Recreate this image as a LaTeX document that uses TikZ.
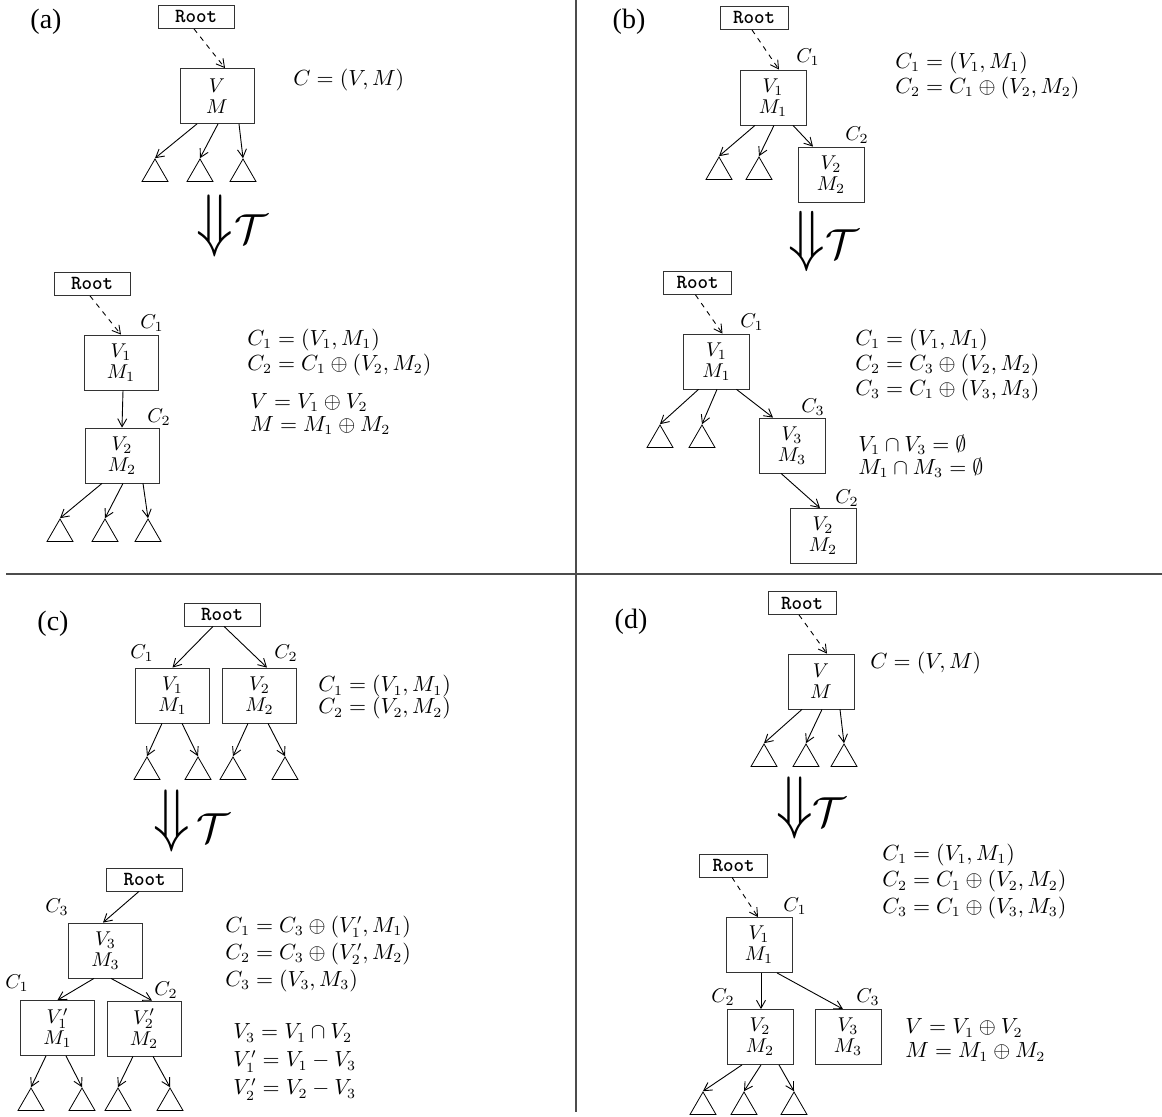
\documentclass[tikz,border=0pt]{standalone}
\usepackage{fontspec}
\newfontfamily\panelfont{Liberation Serif}
\usetikzlibrary{shapes.geometric,arrows.meta}

\begin{document}
\begin{tikzpicture}[x=0.5pt, y=-0.5pt,
    every node/.style={inner sep=0pt},
    cbox/.style={draw=black!80, minimum width=37pt, minimum height=27.5pt, align=center, font=\fontsize{10}{10.5}\selectfont},
    narrow/.style={minimum width=33pt},
    rootbox/.style={draw=black!80, minimum width=38pt, minimum height=11.5pt, font=\ttfamily\bfseries},
    smallroot/.style={minimum width=34pt},
    leaf/.style={draw, regular polygon, regular polygon sides=3, minimum size=15pt},
    clab/.style={font=\fontsize{10}{10}\selectfont},
    eqn/.style={anchor=west, align=left, font=\fontsize{10.5}{12.5}\selectfont},
    panel/.style={font=\panelfont\fontsize{14}{14}\selectfont},
    ptr/.style={-{Straight Barb[length=4pt,width=4.5pt]}, line width=0.45pt},
    dptr/.style={ptr, dash pattern=on 2.5pt off 2.5pt},
    sep/.style={draw=black!70, line width=0.9pt}]

  \useasboundingbox (0,0) rectangle (1162,1117);
  \draw[sep] (576,0) -- (576,1112);
  \draw[sep] (6,574) -- (1162,574);

  % (a)
  \node[panel] (aLab) at (46,22) {(a)};
  \node[rootbox] (a1R) at (196,17) {Root};
  \node[cbox] (a1V) at (217,96) {$V$\\$M$};
  \node[eqn] (a1E) at (293,80) {$C=(V,M)$};
  \node[leaf] (a1T1) at (155,174) {};
  \node[leaf] (a1T2) at (200,174) {};
  \node[leaf] (a1T3) at (243,174) {};
  \draw[dptr] ([xshift=-1pt]a1R.south) -- ([xshift=4pt]a1V.north);
  \draw[ptr] ([xshift=-10pt]a1V.south) -- (a1T1.corner 1);
  \draw[ptr] ([xshift=0.5pt]a1V.south) -- (a1T2.corner 1);
  \draw[ptr] ([xshift=11pt]a1V.south) -- (a1T3.corner 1);
  \node (aDown) at (215,226) {\scalebox{3}[3.5]{$\Downarrow$}};
  \node (aT) at (251,229) {\scalebox{2.1}{$\mathcal{T}$}};

  \node[rootbox] (a2R) at (92,284) {Root};
  \node[cbox] (a2V1) at (121,362.5) {$V_1$\\$M_1$};
  \node[cbox] (a2V2) at (122,455.5) {$V_2$\\$M_2$};
  \node[clab] (a2C1) at (152,323) {$C_1$};
  \node[clab] (a2C2) at (159,417) {$C_2$};
  \node[leaf] (a2T1) at (60,534) {};
  \node[leaf] (a2T2) at (105,534) {};
  \node[leaf] (a2T3) at (148,534) {};
  \draw[dptr] ([xshift=-1pt]a2R.south) -- (a2V1.north);
  \draw[ptr] ([xshift=1pt]a2V1.south) -- (a2V2.north);
  \draw[ptr] ([xshift=-10pt]a2V2.south) -- (a2T1.corner 1);
  \draw[ptr] ([xshift=0.5pt]a2V2.south) -- (a2T2.corner 1);
  \draw[ptr] ([xshift=10.5pt]a2V2.south) -- (a2T3.corner 1);
  \node[eqn] (a2E1) at (247,352.5) {$C_1=(V_1,M_1)$\\$C_2=C_1\oplus(V_2,M_2)$};
  \node[eqn, font=\fontsize{10.5}{11.5}\selectfont] (a2E2) at (250,414) {$V=V_1\oplus V_2$\\$M=M_1\oplus M_2$};

  % (b)
  \node[panel] (bLab) at (629,22) {(b)};
  \node[rootbox,smallroot] (b1R) at (754,18) {Root};
  \node[cbox,narrow] (b1V1) at (773,97.5) {$V_1$\\$M_1$};
  \node[cbox,narrow] (b1V2) at (831,174.5) {$V_2$\\$M_2$};
  \node[clab] (b1C1) at (808,57) {$C_1$};
  \node[clab] (b1C2) at (857,135) {$C_2$};
  \node[leaf] (b1T1) at (719,172) {};
  \node[leaf] (b1T2) at (759,172) {};
  \draw[dptr] ([xshift=-1pt]b1R.south) -- ([xshift=3pt]b1V1.north);
  \draw[ptr] ([xshift=-9pt]b1V1.south) -- (b1T1.corner 1);
  \draw[ptr] ([xshift=0.5pt]b1V1.south) -- (b1T2.corner 1);
  \draw[ptr] ([xshift=10pt]b1V1.south) -- ([xshift=-9pt]b1V2.north);
  \node[eqn] (b1E) at (895,75.5) {$C_1=(V_1,M_1)$\\$C_2=C_1\oplus(V_2,M_2)$};
  \node (bDown) at (807,241.5) {\scalebox{3}[3.4]{$\Downarrow$}};
  \node (bT) at (842,244) {\scalebox{2.1}{$\mathcal{T}$}};

  \node[rootbox,smallroot] (b2R) at (697.5,283) {Root};
  \node[cbox,narrow] (b2V1) at (716.5,361.5) {$V_1$\\$M_1$};
  \node[cbox,narrow] (b2V3) at (792,445.5) {$V_3$\\$M_3$};
  \node[cbox,narrow] (b2V2) at (823,536) {$V_2$\\$M_2$};
  \node[clab] (b2C1) at (752,322) {$C_1$};
  \node[clab] (b2C3) at (813,407) {$C_3$};
  \node[clab] (b2C2) at (847,498) {$C_2$};
  \node[leaf] (b2T1) at (660,440) {};
  \node[leaf] (b2T2) at (702,440) {};
  \draw[dptr] ([xshift=-1pt]b2R.south) -- ([xshift=3pt]b2V1.north);
  \draw[ptr] ([xshift=-9pt]b2V1.south) -- (b2T1.corner 1);
  \draw[ptr] ([xshift=0.25pt]b2V1.south) -- (b2T2.corner 1);
  \draw[ptr] ([xshift=10pt]b2V1.south) -- ([xshift=-9.5pt]b2V3.north);
  \draw[ptr] ([xshift=-5.5pt]b2V3.south) -- ([xshift=-1.5pt]b2V2.north);
  \node[eqn] (b2E1) at (855,365) {$C_1=(V_1,M_1)$\\$C_2=C_3\oplus(V_2,M_2)$\\$C_3=C_1\oplus(V_3,M_3)$};
  \node[eqn, font=\fontsize{10.5}{11.5}\selectfont] (b2E2) at (858,456) {$V_1\cap V_3=\emptyset$\\$M_1\cap M_3=\emptyset$};

  % (c)
  \node[panel] (cLab) at (53,624) {(c)};
  \node[rootbox] (c1R) at (222,614.5) {Root};
  \node[cbox] (c1V1) at (172.5,695.5) {$V_1$\\$M_1$};
  \node[cbox] (c1V2) at (259.5,695.5) {$V_2$\\$M_2$};
  \node[clab] (c1C1) at (142,653) {$C_1$};
  \node[clab] (c1C2) at (286,653) {$C_2$};
  \node[leaf] (c1T1) at (147,772) {};
  \node[leaf] (c1T2) at (198,772) {};
  \node[leaf] (c1T3) at (233,772) {};
  \node[leaf] (c1T4) at (285,772) {};
  \draw[ptr] ([xshift=-4.5pt]c1R.south) -- (c1V1.north);
  \draw[ptr] ([xshift=1pt]c1R.south) -- ([xshift=3.75pt]c1V2.north);
  \draw[ptr] ([xshift=-5.25pt]c1V1.south) -- (c1T1.corner 1);
  \draw[ptr] ([xshift=4.75pt]c1V1.south) -- (c1T2.corner 1);
  \draw[ptr] ([xshift=-5.75pt]c1V2.south) -- (c1T3.corner 1);
  \draw[ptr] ([xshift=4.25pt]c1V2.south) -- (c1T4.corner 1);
  \node[eqn, font=\fontsize{10.5}{11}\selectfont] (c1E) at (318,697.5) {$C_1=(V_1,M_1)$\\$C_2=(V_2,M_2)$};
  \node (cDown) at (172,821) {\scalebox{3}[3.5]{$\Downarrow$}};
  \node (cT) at (213,828) {\scalebox{2.1}{$\mathcal{T}$}};

  \node[rootbox] (c2R) at (144.5,879.5) {Root};
  \node[cbox] (c2V3) at (105.5,950.5) {$V_3$\\$M_3$};
  \node[cbox] (c2V1) at (57.5,1028) {$V'_1$\\$M_1$};
  \node[cbox] (c2V2) at (144,1028.5) {$V'_2$\\$M_2$};
  \node[clab] (c2C3) at (57,907) {$C_3$};
  \node[clab] (c2C1) at (17,983) {$C_1$};
  \node[clab] (c2C2) at (166,990) {$C_2$};
  \node[leaf] (c2T1) at (31,1103) {};
  \node[leaf] (c2T2) at (82,1103) {};
  \node[leaf] (c2T3) at (118,1103) {};
  \node[leaf] (c2T4) at (170,1103) {};
  \draw[ptr] ([xshift=-2.75pt]c2R.south) -- ([xshift=-1.25pt]c2V3.north);
  \draw[ptr] ([xshift=-5.75pt]c2V3.south) -- (c2V1.north);
  \draw[ptr] ([xshift=2.75pt]c2V3.south) -- ([xshift=4pt]c2V2.north);
  \draw[ptr] ([xshift=-5.75pt]c2V1.south) -- (c2T1.corner 1);
  \draw[ptr] ([xshift=4.25pt]c2V1.south) -- (c2T2.corner 1);
  \draw[ptr] ([xshift=-5.5pt]c2V2.south) -- (c2T3.corner 1);
  \draw[ptr] ([xshift=4.5pt]c2V2.south) -- (c2T4.corner 1);
  \node[eqn, font=\fontsize{10.5}{13.5}\selectfont] (c2E1) at (225,954) {$C_1=C_3\oplus(V'_1,M_1)$\\$C_2=C_3\oplus(V'_2,M_2)$\\$C_3=(V_3,M_3)$};
  \node[eqn, font=\fontsize{10.5}{14}\selectfont] (c2E2) at (233,1062) {$V_3=V_1\cap V_2$\\$V'_1=V_1-V_3$\\$V'_2=V_2-V_3$};

  % (d)
  \node[panel] (dLab) at (631,622) {(d)};
  \node[rootbox,smallroot] (d1R) at (802,603) {Root};
  \node[cbox,narrow] (d1V) at (821,681.5) {$V$\\$M$};
  \node[eqn] (d1E) at (870,663) {$C=(V,M)$};
  \node[leaf] (d1T1) at (764,759) {};
  \node[leaf] (d1T2) at (806,759) {};
  \node[leaf] (d1T3) at (844,759) {};
  \draw[dptr] ([xshift=-1.5pt]d1R.south) -- ([xshift=3pt]d1V.north);
  \draw[ptr] ([xshift=-9.5pt]d1V.south) -- (d1T1.corner 1);
  \draw[ptr] ([xshift=0.5pt]d1V.south) -- (d1T2.corner 1);
  \draw[ptr] ([xshift=9.5pt]d1V.south) -- (d1T3.corner 1);
  \node (dDown) at (794.5,808) {\scalebox{3}[3.5]{$\Downarrow$}};
  \node (dT) at (829,812.5) {\scalebox{2.1}{$\mathcal{T}$}};

  \node[rootbox,smallroot] (d2R) at (733.5,865.5) {Root};
  \node[cbox,narrow] (d2V1) at (759,945) {$V_1$\\$M_1$};
  \node[cbox,narrow] (d2V2) at (760,1037) {$V_2$\\$M_2$};
  \node[cbox,narrow] (d2V3) at (848,1037) {$V_3$\\$M_3$};
  \node[clab] (d2C1) at (795,906) {$C_1$};
  \node[clab] (d2C2) at (723,997) {$C_2$};
  \node[clab] (d2C3) at (868,997) {$C_3$};
  \node[leaf] (d2T1) at (703,1107) {};
  \node[leaf] (d2T2) at (744,1107) {};
  \node[leaf] (d2T3) at (794,1107) {};
  \draw[dptr] ([xshift=-0.75pt]d2R.south) -- ([xshift=-0.5pt]d2V1.north);
  \draw[ptr] ([xshift=1pt]d2V1.south) -- ([xshift=0.5pt]d2V2.north);
  \draw[ptr] ([xshift=9pt]d2V1.south) -- ([xshift=-2.5pt]d2V3.north);
  \draw[ptr] ([xshift=-9pt]d2V2.south) -- (d2T1.corner 1);
  \draw[ptr] ([xshift=0.5pt]d2V2.south) -- (d2T2.corner 1);
  \draw[ptr] ([xshift=9.5pt]d2V2.south) -- (d2T3.corner 1);
  \node[eqn, font=\fontsize{10.5}{13.25}\selectfont] (d2E1) at (882,881.5) {$C_1=(V_1,M_1)$\\$C_2=C_1\oplus(V_2,M_2)$\\$C_3=C_1\oplus(V_3,M_3)$};
  \node[eqn, font=\fontsize{10.5}{12}\selectfont] (d2E2) at (905,1040) {$V=V_1\oplus V_2$\\$M=M_1\oplus M_2$};
\end{tikzpicture}
\end{document}
